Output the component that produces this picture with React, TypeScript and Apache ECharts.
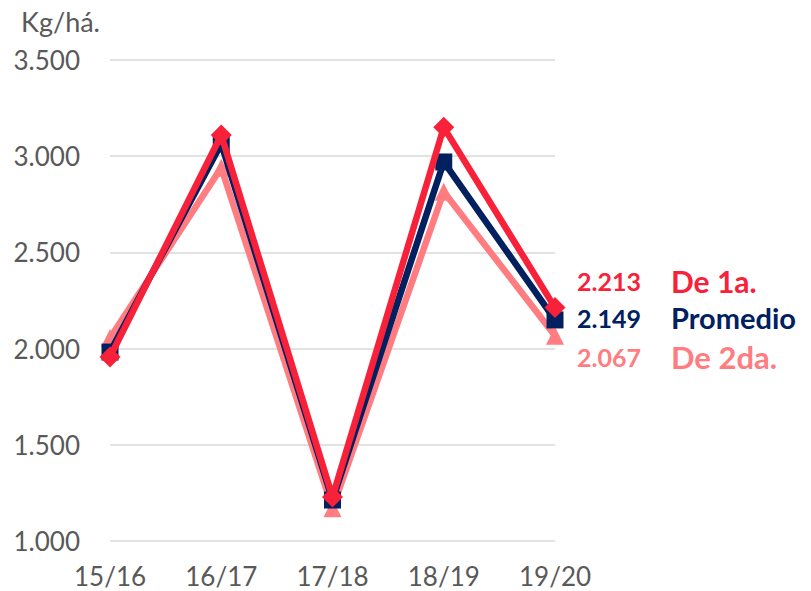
import React, { useEffect, useRef } from "react";
import * as echarts from "echarts";

const categories = ["15/16", "16/17", "17/18", "18/19", "19/20"];
const promedio = [1982, 3065, 1213, 2970, 2149];
const de1a = [1956, 3110, 1229, 3150, 2213];
const de2da = [2055, 2940, 1170, 2815, 2067];
const seriesNames = ["De 1a.", "Promedio", "De 2da."];
const yTicks = { min: 1000, max: 3500, interval: 500 };

const FONT = "Lato, 'Open Sans', sans-serif";

export default function App() {
  const ref = useRef<HTMLDivElement>(null);
  useEffect(() => {
    if (!ref.current) return;
    const chart = echarts.init(ref.current, null, { renderer: "svg" });
    const fmt = (v: number) => (v / 1000).toFixed(3);
    const mk = (
      name: string,
      data: number[],
      color: string,
      symbol: string,
      size: number,
      offY: number,
      nameSize: number,
      z: number
    ) => ({
      name,
      type: "line",
      data,
      z,
      symbol,
      symbolSize: size,
      lineStyle: { color, width: 6.5 },
      itemStyle: { color },
      endLabel: {
        show: true,
        distance: 22,
        offset: [0, offY],
        lineHeight: 28,
        formatter: (p: any) => `{v|${fmt(p.value)}}{n|${name}}`,
        rich: {
          v: { color, fontSize: 25, lineHeight: 28, fontWeight: "bold", fontFamily: FONT, width: 94, verticalAlign: "middle" },
          n: { color, fontSize: nameSize, lineHeight: 28, fontWeight: "bold", fontFamily: FONT, verticalAlign: "middle" },
        },
      },
    });
    chart.setOption({
      animation: false,
      grid: { left: 110, right: 256, top: 60, bottom: 50, containLabel: false },
      xAxis: {
        type: "category",
        data: categories,
        boundaryGap: false,
        axisLine: { show: false },
        axisTick: { show: false },
        axisLabel: { color: "#595959", fontSize: 26, fontFamily: FONT, margin: 22 },
      },
      yAxis: {
        type: "value",
        min: yTicks.min,
        max: yTicks.max,
        interval: yTicks.interval,
        name: "Kg/há.",
        nameLocation: "end",
        nameGap: 25,
        nameTextStyle: { color: "#595959", fontSize: 27, fontFamily: FONT, align: "right", padding: [0, 10, 0, 0] },
        axisLine: { show: false },
        axisTick: { show: false },
        splitLine: { lineStyle: { color: "#d9d9d9", width: 1.5 } },
        axisLabel: { color: "#595959", fontSize: 26, fontFamily: FONT, margin: 30, formatter: fmt },
      },
      series: [
        mk(seriesNames[2], de2da, "#FF7C80", "triangle", 18, 21, 31, 1),
        mk(seriesNames[1], promedio, "#002060", "rect", 17, -2, 29, 2),
        mk(seriesNames[0], de1a, "#F8213A", "diamond", 21, -27, 30, 3),
      ],
    });
    return () => chart.dispose();
  }, []);
  return <div ref={ref} style={{ width: 811, height: 591, position: "absolute", left: 0, top: 0 }} />;
}
